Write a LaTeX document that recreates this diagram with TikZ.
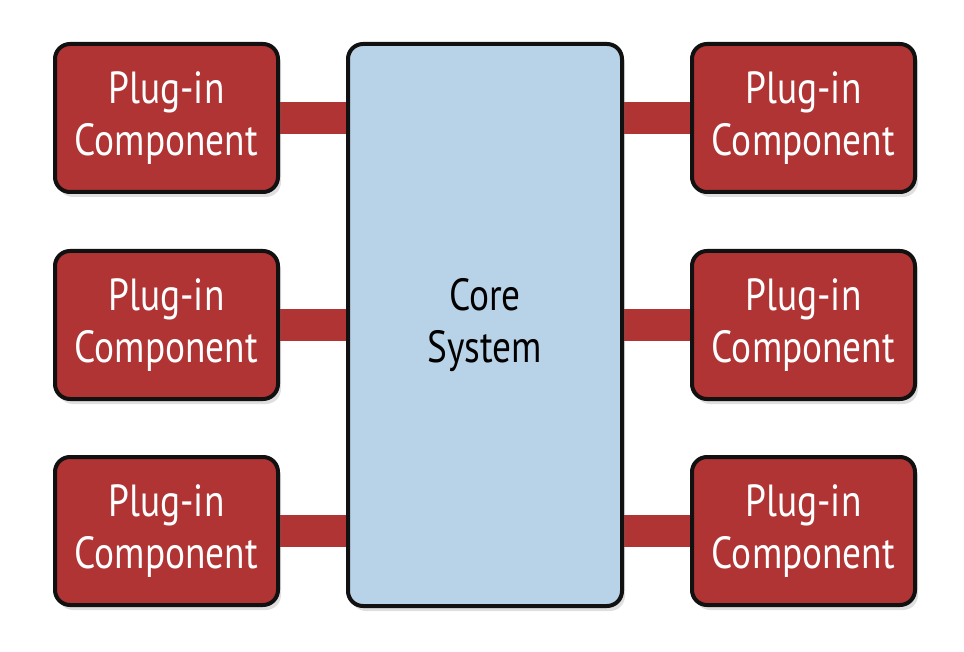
\documentclass[tikz,border=0pt]{standalone}
\usepackage{fontspec}
\setmainfont{PT Sans}[FakeStretch=0.83]
\usepackage{tikz}
\usetikzlibrary{positioning,shadows,backgrounds}
\definecolor{plugred}{HTML}{B03434}
\definecolor{coreblue}{HTML}{B8D3E8}
\definecolor{edge}{HTML}{111111}
\tikzset{
  plugbox/.style={
    rectangle, rounded corners=7.5pt, draw=edge, line width=2pt,
    fill=plugred, text=white,
    minimum width=111.5pt, minimum height=74pt,
    font=\fontsize{22.5}{26}\selectfont, align=center, inner sep=2pt,
    drop shadow={shadow xshift=1.5pt, shadow yshift=-2.5pt, opacity=0.25}
  },
  corebox/.style={
    rectangle, rounded corners=7.5pt, draw=edge, line width=2pt,
    fill=coreblue, text=black,
    minimum width=137pt, minimum height=281pt,
    font=\fontsize{22.5}{26}\selectfont, align=center,
    drop shadow={shadow xshift=1.5pt, shadow yshift=-2.5pt, opacity=0.25}
  },
  plugbar/.style={draw=plugred, line width=16pt}
}
\begin{document}
\begin{tikzpicture}[x=0.5pt, y=-0.5pt]
  \useasboundingbox (0,0) rectangle (964,652);

  % Core
  \node[corebox] (core) at (485,325) {Core\\System};

  % Plug-ins, left and right
  \node[plugbox] (l1) at (166.5,118) {Plug-in\\Component};
  \node[plugbox] (l2) at (166.5,325) {Plug-in\\Component};
  \node[plugbox] (l3) at (166.5,531) {Plug-in\\Component};
  \node[plugbox] (r1) at (803.5,118) {Plug-in\\Component};
  \node[plugbox] (r2) at (803.5,325) {Plug-in\\Component};
  \node[plugbox] (r3) at (803.5,531) {Plug-in\\Component};

  % Bars
  \begin{scope}[on background layer]
    \foreach \p in {l1,l2,l3}
      \draw[plugbar] (\p.east) -- (core.west |- \p.east);
    \foreach \p in {r1,r2,r3}
      \draw[plugbar] (\p.west) -- (core.east |- \p.west);
  \end{scope}
\end{tikzpicture}
\end{document}
